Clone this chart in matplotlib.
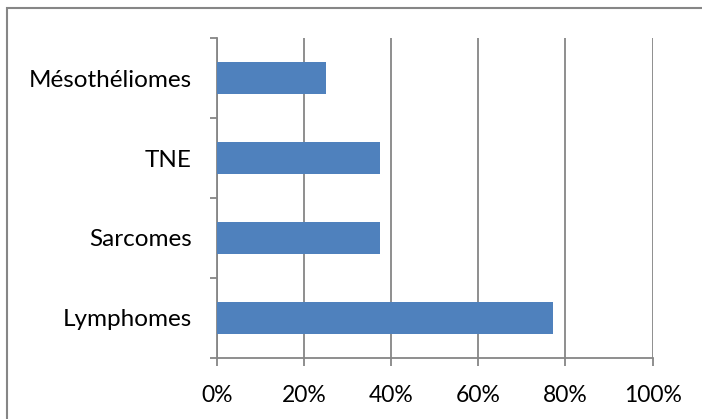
import matplotlib.pyplot as plt
from matplotlib.patches import Rectangle
from matplotlib.ticker import FuncFormatter

categories = ["Lymphomes", "Sarcomes", "TNE", "Mésothéliomes"]
values = [77.2, 37.5, 37.5, 25.1]
xticks = [0, 20, 40, 60, 80, 100]

grey = "#868686"
plt.rcParams['font.family'] = ['Lato', 'DejaVu Sans']

fig = plt.figure(figsize=(7.02, 4.19), dpi=100)
ax = fig.add_axes([0.309, 0.1463, 0.6206, 0.7623])

ypos = range(len(categories))
ax.barh(ypos, values, height=0.4, color="#4F81BD", zorder=3)

ax.set_xlim(0, 100)
ax.set_ylim(-0.5, len(categories) - 0.5)
ax.set_xticks(xticks)
ax.xaxis.set_major_formatter(FuncFormatter(lambda v, p: f"{v:.0f}%"))
ax.set_yticks(list(ypos))
ax.set_yticklabels(categories)
ax.set_yticks([i - 0.5 for i in range(len(categories) + 1)], minor=True)

ax.grid(axis="x", color=grey, linewidth=1.3, zorder=0)
for s in ["top", "right"]:
    ax.spines[s].set_visible(False)
for s in ["left", "bottom"]:
    ax.spines[s].set_color(grey)
    ax.spines[s].set_linewidth(1.3)

ax.tick_params(axis="y", which="major", length=0, pad=18, labelsize=17.5)
ax.tick_params(axis="y", which="minor", length=5, width=1.3, color=grey)
ax.tick_params(axis="x", which="major", length=6, width=1.3, color=grey,
               pad=14, labelsize=16.5)

# outer chart border (right and bottom edges fall outside the image)
fig.patches.append(Rectangle((0.0093, -0.05), 1.05, 1.031, transform=fig.transFigure,
                             fill=False, edgecolor=grey, linewidth=1.5))

fig.savefig("out.png", dpi=100)
